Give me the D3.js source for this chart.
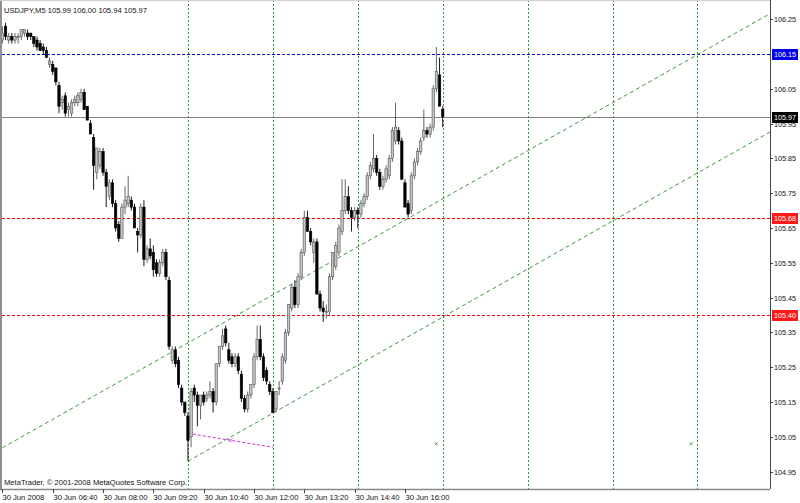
<!DOCTYPE html>
<html><head><meta charset="utf-8">
<script src="https://cdn.jsdelivr.net/npm/d3@7"></script>
<style>body{margin:0;background:#fff}svg{display:block}text{font-family:"Liberation Sans",Arial,sans-serif}</style>
</head><body>
<svg id="c" width="800" height="503"></svg>
<script>
// ---- DATA (USDJPY M5, 30 Jun 2008, first bar 05:20) ----
const startTime = "05:20";
const barMinutes = 5;
const open  = [106.19,106.23,106.19,106.20,106.19,106.20,106.20,106.21,106.21,106.21,106.20,106.19,106.18,106.17,106.16,106.12,106.12,106.11,106.06,106.01,
106.03,105.99,105.98,106.01,106.01,106.02,106.04,106.00,105.95,105.91,105.81,105.83,105.87,105.81,105.74,105.78,105.72,105.66,105.62,105.71,
105.72,105.73,105.71,105.64,105.63,105.71,105.56,105.59,105.58,105.55,105.52,105.55,105.58,105.50,105.27,105.30,105.27,105.19,105.15,105.11,
105.05,105.19,105.17,105.14,105.17,105.16,105.17,105.18,105.15,105.26,105.31,105.36,105.30,105.28,105.26,105.28,105.23,105.16,105.13,105.17,
105.20,105.28,105.33,105.28,105.24,105.20,105.18,105.13,105.19,105.21,105.27,105.35,105.42,105.48,105.43,105.51,105.58,105.68,105.64,105.58,
105.61,105.46,105.42,105.41,105.41,105.51,105.54,105.58,105.64,105.70,105.74,105.70,105.68,105.70,105.69,105.72,105.74,105.80,105.82,105.85,
105.81,105.77,105.79,105.80,105.85,105.90,105.93,105.90,105.78,105.72,105.70,105.80,105.84,105.87,105.91,105.93,105.92,105.94,106.05,106.09,105.99];
const high  = [106.23,106.24,106.21,106.21,106.21,106.21,106.22,106.22,106.22,106.21,106.20,106.20,106.19,106.18,106.17,106.14,106.13,106.11,106.07,106.03,
106.04,106.01,106.02,106.03,106.04,106.05,106.05,106.00,105.96,105.92,105.88,105.88,105.88,105.82,105.79,105.79,105.73,105.67,105.72,105.77,
105.80,105.74,105.72,105.65,105.72,105.73,105.60,105.62,105.60,105.56,105.56,105.59,105.59,105.51,105.31,105.31,105.28,105.20,105.15,105.12,
105.19,105.20,105.18,105.17,105.18,105.18,105.21,105.19,105.26,105.31,105.36,105.37,105.32,105.29,105.29,105.29,105.24,105.17,105.18,105.20,
105.29,105.37,105.37,105.29,105.25,105.21,105.19,105.18,105.21,105.29,105.36,105.43,105.49,105.50,105.52,105.59,105.70,105.70,105.65,105.62,
105.62,105.47,105.44,105.43,105.52,105.58,105.61,105.66,105.79,105.79,105.77,105.71,105.71,105.71,105.73,105.75,105.81,105.84,105.92,105.86,
105.82,105.80,105.83,105.86,105.94,106.01,105.94,105.91,105.79,105.73,105.81,105.85,105.88,105.91,105.99,105.94,105.95,106.06,106.17,106.14,106.00];
const low   = [106.18,106.19,106.18,106.18,106.18,106.18,106.19,106.20,106.19,106.19,106.17,106.16,106.16,106.15,106.14,106.11,106.09,106.06,105.98,105.99,
105.97,105.97,105.97,106.00,106.00,106.01,105.99,105.96,105.92,105.76,105.79,105.82,105.80,105.71,105.73,105.71,105.64,105.61,105.62,105.69,
105.71,105.70,105.65,105.58,105.62,105.54,105.55,105.56,105.51,105.51,105.51,105.54,105.50,105.30,105.26,105.25,105.19,105.14,105.11,104.98,
105.02,105.15,105.08,105.10,105.14,105.15,105.16,105.12,105.14,105.25,105.30,105.31,105.26,105.25,105.25,105.23,105.15,105.12,105.12,105.16,
105.19,105.27,105.27,105.21,105.20,105.17,105.12,105.12,105.17,105.20,105.26,105.34,105.41,105.42,105.42,105.50,105.57,105.64,105.60,105.55,
105.46,105.41,105.38,105.39,105.40,105.50,105.53,105.57,105.63,105.69,105.69,105.64,105.67,105.65,105.68,105.71,105.73,105.79,105.81,105.80,
105.76,105.76,105.78,105.79,105.84,105.89,105.89,105.79,105.71,105.68,105.69,105.79,105.83,105.86,105.90,105.91,105.91,105.93,106.04,106.00,105.94];
const close = [106.21,106.20,106.20,106.19,106.20,106.20,106.22,106.22,106.20,106.20,106.18,106.17,106.16,106.16,106.14,106.13,106.10,106.07,106.00,106.02,
105.98,106.00,106.01,106.02,106.03,106.04,105.99,105.96,105.92,105.83,105.88,105.87,105.81,105.77,105.78,105.72,105.65,105.62,105.71,105.73,
105.74,105.71,105.65,105.63,105.71,105.56,105.59,105.57,105.53,105.52,105.55,105.58,105.51,105.31,105.30,105.26,105.20,105.15,105.12,105.04,
105.18,105.17,105.14,105.17,105.15,105.17,105.18,105.15,105.26,105.31,105.34,105.32,105.27,105.26,105.28,105.24,105.16,105.13,105.17,105.20,
105.28,105.33,105.28,105.22,105.21,105.18,105.12,105.18,105.19,105.28,105.35,105.43,105.48,105.43,105.51,105.58,105.68,105.64,105.61,105.61,
105.46,105.42,105.41,105.41,105.51,105.58,105.60,105.65,105.70,105.74,105.70,105.68,105.70,105.69,105.72,105.74,105.80,105.83,105.85,105.81,
105.77,105.79,105.82,105.85,105.93,105.94,105.90,105.79,105.71,105.69,105.80,105.84,105.87,105.90,105.93,105.92,105.94,106.05,106.10,106.00,105.97];

const priceTicks = [106.25,106.05,105.95,105.85,105.75,105.65,105.55,105.45,105.35,105.25,105.15,105.05,104.95];
const timeTickTimes = ["05:20","06:40","08:00","09:20","10:40","12:00","13:20","14:40","16:00"];
const timeTickLabels = ["30 Jun 2008","30 Jun 06:40","30 Jun 08:00","30 Jun 09:20","30 Jun 10:40","30 Jun 12:00","30 Jun 13:20","30 Jun 14:40","30 Jun 16:00"];
const vLineTimes = ["10:15","12:30","14:45","17:00","19:15","21:30","23:45"];
const hLines = [
  {price:106.15, color:"#0000cc", label:"106.15", box:"#0000ee", dash:"3,2"},
  {price:105.68, color:"#ff0000", label:"105.68", box:"#ff1a1a", dash:"3,2"},
  {price:105.40, color:"#ff0000", label:"105.40", box:"#ff1a1a", dash:"3,2"}
];
const bidPrice = 105.97;
const channelLines = [
  {t1:"10:15", p1:105.320, t2:"14:45", p2:105.596, from:"05:20"},
  {t1:"10:15", p1:104.980, t2:"14:45", p2:105.256, from:"10:15"}
];
const pinkLine = {t1:"10:15", p1:105.06, t2:"12:30", p2:105.02};
const markers = [{t:"16:50", p:105.03},{t:"23:35", p:105.03}];
const header = "USDJPY,M5  105.99 106.00 105.94 105.97";
const copyright = "MetaTrader, \u00a9 2001-2008 MetaQuotes Software Corp.";

// ---- LAYOUT ----
const plotR = 770, plotB = 489;
const svg = d3.select("#c");
const mins = s => { const [h,m] = s.split(":").map(Number); return h*60+m; };
const t0 = mins(startTime);
const x = d3.scaleLinear().domain([0, barMinutes]).range([2.4, 2.4 + 3.145]);
const xt = s => x(mins(s) - t0);
const y = d3.scaleLinear().domain([104.95, 106.25]).range([471.6, 19.2]);

svg.append("clipPath").attr("id","pc").append("rect").attr("x",2).attr("y",1).attr("width",plotR-2).attr("height",plotB-1);
const g = svg.append("g").attr("clip-path","url(#pc)");

g.selectAll("line.v").data(vLineTimes).join("line")
  .attr("x1", d => Math.round(xt(d))+0.5).attr("x2", d => Math.round(xt(d))+0.5)
  .attr("y1", 0).attr("y2", plotB)
  .attr("stroke", "#339933").attr("stroke-width", 1).attr("stroke-dasharray", "2,2");

hLines.forEach(h => {
  g.append("line").attr("x1",2).attr("x2",plotR).attr("y1",Math.round(y(h.price))+0.5).attr("y2",Math.round(y(h.price))+0.5)
   .attr("stroke",h.color).attr("stroke-width",1).attr("stroke-dasharray",h.dash);
});
g.append("line").attr("x1",2).attr("x2",plotR).attr("y1",Math.round(y(bidPrice))+0.5).attr("y2",Math.round(y(bidPrice))+0.5)
 .attr("stroke","#808080").attr("stroke-width",1);

channelLines.forEach(c => {
  const xa = xt(c.t1), xb = xt(c.t2), ya = y(c.p1), yb = y(c.p2);
  const s = (yb-ya)/(xb-xa);
  const xs = Math.max(2, xt(c.from)), xe = plotR;
  g.append("line").attr("x1",xs).attr("y1",ya + s*(xs-xa)).attr("x2",xe).attr("y2",ya + s*(xe-xa))
   .attr("stroke","#3c9c3c").attr("stroke-width",1).attr("stroke-dasharray","4,3");
});
g.append("line").attr("x1",xt(pinkLine.t1)).attr("y1",y(pinkLine.p1)).attr("x2",xt(pinkLine.t2)).attr("y2",y(pinkLine.p2))
 .attr("stroke","#cc33cc").attr("stroke-width",1).attr("stroke-dasharray","3,2");
const mx = (xt(pinkLine.t1)+xt(pinkLine.t2))/2, my = (y(pinkLine.p1)+y(pinkLine.p2))/2;
g.append("path").attr("d",`M${mx-2},${my-2}L${mx+2},${my+2}M${mx+2},${my-2}L${mx-2},${my+2}`).attr("stroke","#cc33cc").attr("stroke-width",0.8);
markers.forEach(m => {
  const cx = xt(m.t), cy = y(m.p);
  g.append("path").attr("d",`M${cx-1.5},${cy-1.5}L${cx+1.5},${cy+1.5}M${cx+1.5},${cy-1.5}L${cx-1.5},${cy+1.5}`)
   .attr("stroke","#339933").attr("stroke-width",0.8);
});

const bars = open.map((o,i) => ({i, o, h:high[i], l:low[i], c:close[i]}));
const bw = 2.4;
const cg = g.append("g");
cg.selectAll("line.w").data(bars).join("line")
  .attr("x1", d => x(d.i*barMinutes)).attr("x2", d => x(d.i*barMinutes))
  .attr("y1", d => y(d.h)).attr("y2", d => y(d.l))
  .attr("stroke", d => d.c >= d.o ? "#555" : "#000").attr("stroke-width", 0.9);
cg.selectAll("rect.b").data(bars).join("rect")
  .attr("x", d => x(d.i*barMinutes) - bw/2)
  .attr("y", d => y(Math.max(d.o,d.c)))
  .attr("width", bw)
  .attr("height", d => Math.max(0.8, Math.abs(y(d.o)-y(d.c))))
  .attr("fill", d => d.c >= d.o ? "#c4c4c4" : "#000")
  .attr("stroke", d => d.c >= d.o ? "#555" : "#000").attr("stroke-width", 0.6);

svg.append("line").attr("x1",1).attr("x2",1).attr("y1",0).attr("y2",plotB).attr("stroke","#909090").attr("stroke-width",2);
svg.append("line").attr("x1",0).attr("x2",plotR).attr("y1",0.5).attr("y2",0.5).attr("stroke","#d0d0d0").attr("stroke-width",1);
svg.append("line").attr("x1",plotR+0.5).attr("x2",plotR+0.5).attr("y1",0).attr("y2",plotB).attr("stroke","#444").attr("stroke-width",1);
svg.append("line").attr("x1",0).attr("x2",plotR).attr("y1",plotB+0.5).attr("y2",plotB+0.5).attr("stroke","#888").attr("stroke-width",1.5);

const ya = svg.append("g");
priceTicks.forEach(p => {
  const yy = Math.round(y(p))+0.5;
  ya.append("line").attr("x1",plotR).attr("x2",plotR+3).attr("y1",yy).attr("y2",yy).attr("stroke","#444");
  ya.append("text").attr("x",774).attr("y",yy).attr("dy","0.35em").attr("font-size","7.2px").attr("fill","#111").text(p.toFixed(2));
});
function priceBox(p, fill, label){
  const yy = Math.round(y(p))+0.5;
  ya.append("rect").attr("x",772).attr("y",yy-5.5).attr("width",26).attr("height",11).attr("fill",fill);
  ya.append("text").attr("x",774).attr("y",yy).attr("dy","0.35em").attr("font-size","7.2px").attr("fill","#fff").text(label);
}
hLines.forEach(h => priceBox(h.price, h.box, h.label));
priceBox(bidPrice, "#000", bidPrice.toFixed(2));

const xa = svg.append("g");
timeTickTimes.forEach((t,i) => {
  const xx = Math.round(xt(t))+0.5;
  xa.append("line").attr("x1",xx).attr("x2",xx).attr("y1",plotB).attr("y2",plotB+4).attr("stroke","#444");
  xa.append("text").attr("x",xx).attr("y",497).attr("dy","0.35em").attr("font-size","7.6px").attr("fill","#111").text(timeTickLabels[i]);
});

svg.append("text").attr("x",4).attr("y",10).attr("dy","0.35em").attr("font-size","7.6px").attr("fill","#111").text(header);
svg.append("text").attr("x",4).attr("y",482).attr("dy","0.35em").attr("font-size","7.6px").attr("fill","#111").text(copyright);
</script>
</body></html>
